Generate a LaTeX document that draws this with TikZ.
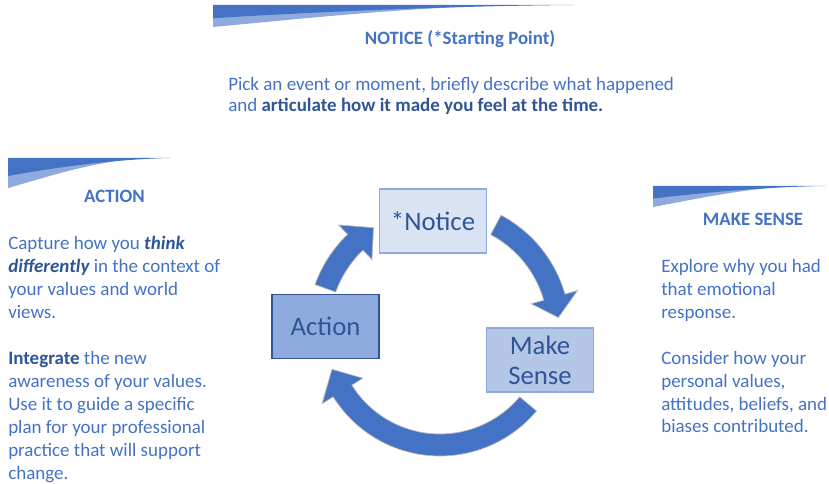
\documentclass[tikz,border=0pt]{standalone}
\usepackage{fontspec}
\setmainfont{Carlito}
\usepackage{tikz}
\definecolor{titleblue}{HTML}{4472C4}
\definecolor{boldblue}{HTML}{2F5597}
\definecolor{noticefill}{HTML}{DAE3F3}
\definecolor{sensefill}{HTML}{B4C7E7}
\definecolor{actionfill}{HTML}{8FAADC}
\definecolor{lightedge}{HTML}{8FAADC}
\newcommand{\keyword}[1]{\textbf{\color{boldblue}#1}}

\begin{document}
\begin{tikzpicture}[x=0.025cm, y=-0.025cm,
  heading/.style={font=\fontsize{13.4}{16}\selectfont\bfseries, text=titleblue, anchor=base, inner sep=0pt},
  bodytext/.style={font=\fontsize{13.5}{16.3}\selectfont, text=titleblue, anchor=base west, align=left, inner sep=0pt},
  stagebox/.style={draw=lightedge, line width=1.1pt, minimum width=2.68cm, minimum height=1.6cm, font=\fontsize{19}{21.5}\selectfont, text=boldblue, align=center},
  cyclearrow/.style={fill=titleblue, draw=gray!55, line width=0.5pt}]
\useasboundingbox (0,0) rectangle (829,484);
%swooshes
  \foreach \x/\y/\w/\h in {213/5/362/22, 8/158/162/30, 653/186/172/21} {
    \fill[actionfill] (\x,\y+0.3*\h) .. controls (\x+0.3*\w,\y+0.15*\h) and (\x+0.5*\w,\y+0.05*\h) .. (\x+0.8*\w,\y+0.02*\h) .. controls (\x+0.5*\w,\y+0.15*\h) and (\x+0.2*\w,\y+0.7*\h) .. (\x,\y+\h) -- cycle;
    \fill[titleblue] (\x,\y) -- (\x+\w,\y) .. controls (\x+0.6*\w,\y+0.05*\h) and (\x+0.2*\w,\y+0.4*\h) .. (\x,\y+0.6*\h) -- cycle;
  }
%texts (multi-line nodes sit on their last baseline)
  \node[heading] (noticetitle) at (460,45) {NOTICE (*Starting Point)};
  \node[bodytext, font=\fontsize{13.5}{15.3}\selectfont] (noticetext) at (228,112) {Pick an event or moment, briefly describe what happened\\and \keyword{articulate how it made you feel at the time.}};
  \node[heading] (actiontitle) at (114.5,203) {ACTION};
  \node[bodytext] (actiontext) at (8,479) {Capture how you \keyword{\itshape think}\\\keyword{\itshape differently} in the context of\\your values and world\\views.\\[16.3pt]\keyword{Integrate} the new\\awareness of your values.\\Use it to guide a specific\\plan for your professional\\practice that will support\\change.};
  \node[heading] (sensetitle) at (753,226) {MAKE SENSE};
  \node[bodytext] (sensetext) at (661,433) {Explore why you had\\that emotional\\response.\\[16.3pt]Consider how your\\personal values,\\attitudes, beliefs, and\\biases contributed.};
%cycle
  \coordinate (hub) at (440,330);
  \foreach \s/\b/\t/\R in {200/226/237/122, -62/-16/-6/119, 40/148/160/115} {
    \draw[cyclearrow, shift={(hub)}] ({\s}:{\R+11}) arc ({\s}:{\b}:{\R+11}) -- ({\b}:{\R+24}) -- ({\t}:{\R}) -- ({\b}:{\R-24}) -- ({\b}:{\R-11}) arc ({\b}:{\s}:{\R-11}) -- cycle;
  }
  \node[stagebox, fill=noticefill] (notice) at (433,221) {*Notice};
  \node[stagebox, fill=actionfill, draw=boldblue] (action) at (325.5,326.5) {Action};
  \node[stagebox, fill=sensefill] (sense) at (540,360) {Make\\Sense};
\end{tikzpicture}
\end{document}
